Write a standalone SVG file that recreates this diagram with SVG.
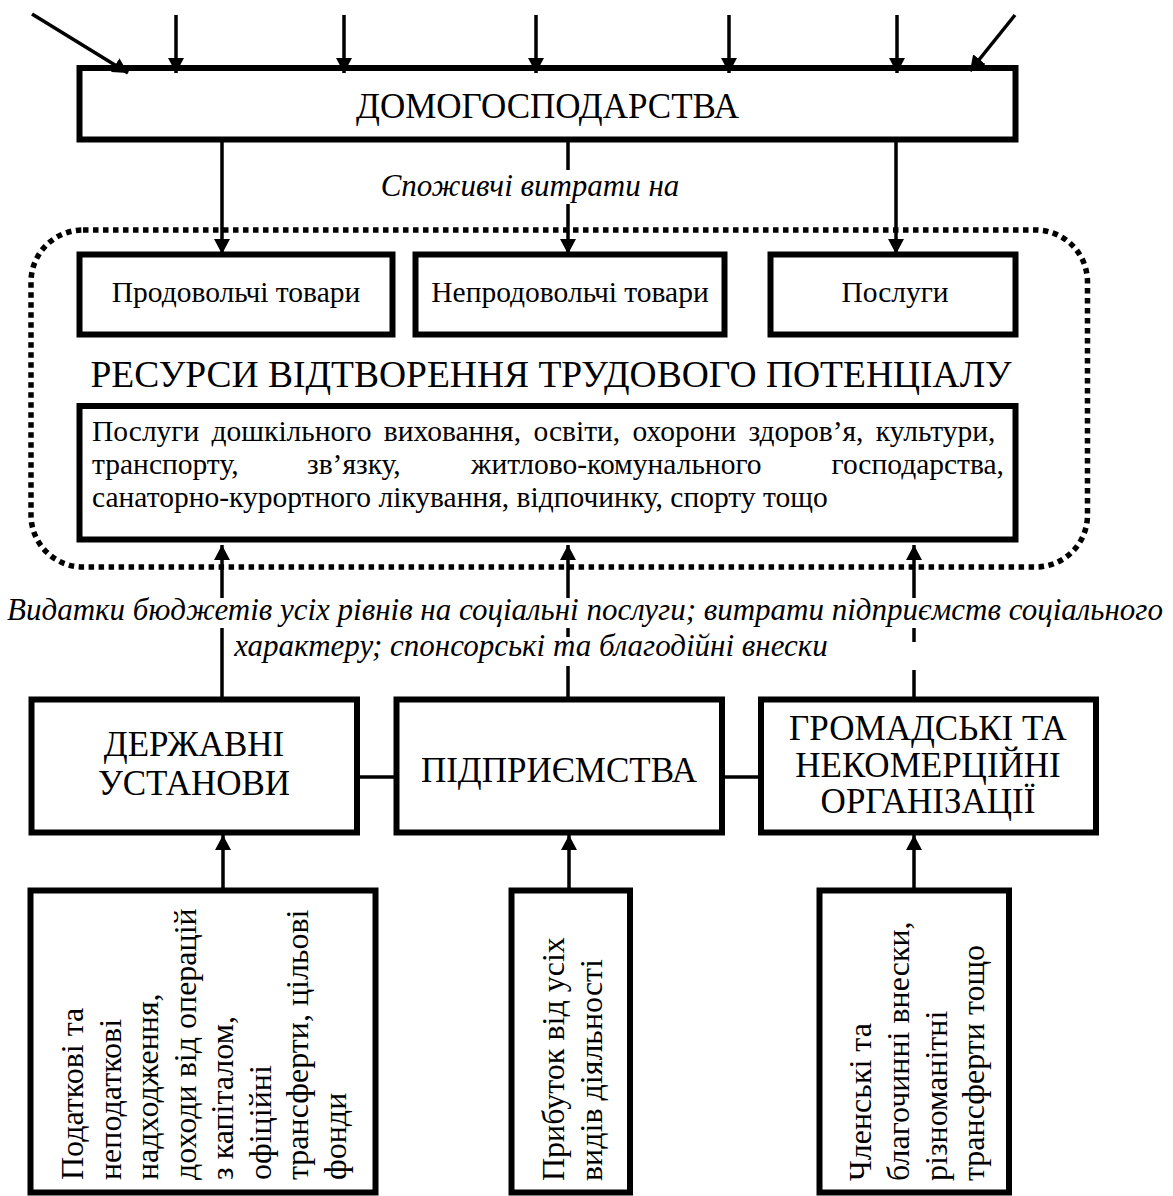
<svg xmlns="http://www.w3.org/2000/svg" width="1173" height="1196" viewBox="0 0 1173 1196">
<style>
  .box{fill:#fff;stroke:#000;stroke-width:6}
  .ln{fill:none;stroke:#000;stroke-width:3.5}
  .dot{fill:none;stroke:#000;stroke-width:5.5;stroke-dasharray:5.5 4.5}
  text{font-family:"Liberation Serif","Times New Roman",serif;fill:#000}
  .h{font-size:35px;text-anchor:middle}
  .m{font-size:29.5px;text-anchor:middle}
  .b{font-size:29.5px}
  .it{font-size:31px;font-style:italic;text-anchor:middle}
  .r{font-size:32px}
</style>
<defs>
  <marker id="ah" markerUnits="userSpaceOnUse" markerWidth="17" markerHeight="17" refX="15" refY="8" orient="auto">
    <path d="M0,0 L15,8 L0,16 z" fill="#000"/>
  </marker>
</defs>

<g id="resources-area">
  <path class="dot" d="M83,230 H1035.5 A52,52 0 0 1 1087.5,282 V515 A52,52 0 0 1 1035.5,567 H83 A52,52 0 0 1 31,515 V282 A52,52 0 0 1 83,230 Z"/>
  <text class="h" x="551" y="387" style="font-size:37.5px">РЕСУРСИ ВІДТВОРЕННЯ ТРУДОВОГО ПОТЕНЦІАЛУ</text>
</g>

<g id="households">
  <rect class="box" x="79.5" y="68" width="936" height="71.5"/>
  <text class="h" x="547.5" y="118">ДОМОГОСПОДАРСТВА</text>
</g>

<g id="food">
  <rect class="box" x="79.5" y="254.5" width="313" height="80"/>
  <text class="m" x="236" y="302">Продовольчі товари</text>
</g>
<g id="nonfood">
  <rect class="box" x="415.5" y="254.5" width="309" height="80"/>
  <text class="m" x="570" y="302">Непродовольчі товари</text>
</g>
<g id="services">
  <rect class="box" x="770.5" y="254.5" width="245" height="80"/>
  <text class="m" x="895" y="302">Послуги</text>
</g>

<g id="social-services">
  <rect class="box" x="79.5" y="406" width="936" height="133.5"/>
  <text class="b" x="92" y="441" word-spacing="5">Послуги дошкільного виховання, освіти, охорони здоров’я, культури,</text>
  <text class="b" y="474"><tspan x="92">транспорту,</tspan><tspan x="307">зв’язку,</tspan><tspan x="471">житлово-комунального</tspan></text>
  <text class="b" x="1004" y="474" text-anchor="end">господарства,</text>
  <text class="b" x="92" y="507">санаторно-курортного лікування, відпочинку, спорту тощо</text>
</g>

<g id="state">
  <rect class="box" x="31.5" y="699.5" width="325.5" height="133"/>
  <text class="h" x="194" y="756">ДЕРЖАВНІ</text>
  <text class="h" x="194" y="795">УСТАНОВИ</text>
</g>
<g id="enterprises">
  <rect class="box" x="396.5" y="699.5" width="325.5" height="133"/>
  <text class="h" x="559" y="782">ПІДПРИЄМСТВА</text>
</g>
<g id="ngo">
  <rect class="box" x="761" y="699.5" width="335" height="133"/>
  <text class="h" x="928" y="740">ГРОМАДСЬКІ ТА</text>
  <text class="h" x="928" y="777">НЕКОМЕРЦІЙНІ</text>
  <text class="h" x="928" y="813">ОРГАНІЗАЦІЇ</text>
</g>

<g id="taxes">
  <rect class="box" x="30.5" y="890.5" width="345" height="302"/>
  <g class="r">
    <text transform="translate(83,1180) rotate(-90)">Податкові та</text>
    <text transform="translate(120.5,1180) rotate(-90)">неподаткові</text>
    <text transform="translate(158,1180) rotate(-90)">надходження,</text>
    <text transform="translate(195.5,1180) rotate(-90)">доходи від операцій</text>
    <text transform="translate(233,1180) rotate(-90)">з капіталом,</text>
    <text transform="translate(270.5,1180) rotate(-90)">офіційні</text>
    <text transform="translate(308,1180) rotate(-90)">трансферти, цільові</text>
    <text transform="translate(345.5,1180) rotate(-90)">фонди</text>
  </g>
</g>
<g id="profit">
  <rect class="box" x="511.5" y="890.5" width="118.5" height="302"/>
  <g class="r">
    <text transform="translate(564,1181) rotate(-90)">Прибуток від усіх</text>
    <text transform="translate(602,1181) rotate(-90)">видів діяльності</text>
  </g>
</g>
<g id="contributions">
  <rect class="box" x="819.5" y="890.5" width="189.5" height="302"/>
  <g class="r">
    <text transform="translate(871,1181) rotate(-90)">Членські та</text>
    <text transform="translate(909,1181) rotate(-90)">благочинні внески,</text>
    <text transform="translate(946.5,1181) rotate(-90)">різноманітні</text>
    <text transform="translate(984,1181) rotate(-90)">трансферти тощо</text>
  </g>
</g>

<g id="labels">
  <text class="it" x="530" y="196">Споживчі витрати на</text>
  <text class="it" x="585" y="620">Видатки бюджетів усіх рівнів на соціальні послуги; витрати підприємств соціального</text>
  <text class="it" x="531" y="656">характеру; спонсорські та благодійні внески</text>
</g>

<g id="connectors">
  <line class="ln" x1="32" y1="14" x2="128" y2="73" marker-end="url(#ah)"/>
  <line class="ln" x1="176" y1="15" x2="176" y2="73" marker-end="url(#ah)"/>
  <line class="ln" x1="344" y1="15" x2="344" y2="73" marker-end="url(#ah)"/>
  <line class="ln" x1="536" y1="15" x2="536" y2="73" marker-end="url(#ah)"/>
  <line class="ln" x1="729" y1="15" x2="729" y2="73" marker-end="url(#ah)"/>
  <line class="ln" x1="897" y1="15" x2="897" y2="73" marker-end="url(#ah)"/>
  <line class="ln" x1="1015" y1="15" x2="970" y2="71" marker-end="url(#ah)"/>

  <line class="ln" x1="222" y1="142" x2="222" y2="254" marker-end="url(#ah)"/>
  <line class="ln" x1="568" y1="142" x2="568" y2="170"/>
  <line class="ln" x1="568" y1="204" x2="568" y2="254" marker-end="url(#ah)"/>
  <line class="ln" x1="896" y1="142" x2="896" y2="254" marker-end="url(#ah)"/>

  <line class="ln" x1="222" y1="598" x2="222" y2="545" marker-end="url(#ah)"/>
  <line class="ln" x1="222" y1="628" x2="222" y2="697"/>
  <line class="ln" x1="568" y1="598" x2="568" y2="545" marker-end="url(#ah)"/>
  <line class="ln" x1="568" y1="628" x2="568" y2="637"/>
  <line class="ln" x1="568" y1="666" x2="568" y2="697"/>
  <line class="ln" x1="914" y1="598" x2="914" y2="545" marker-end="url(#ah)"/>
  <line class="ln" x1="914" y1="628" x2="914" y2="642"/>
  <line class="ln" x1="914" y1="670" x2="914" y2="697"/>

  <line class="ln" x1="357" y1="777" x2="396.5" y2="777"/>
  <line class="ln" x1="722" y1="777" x2="761" y2="777"/>

  <line class="ln" x1="223" y1="888" x2="223" y2="835" marker-end="url(#ah)"/>
  <line class="ln" x1="569" y1="888" x2="569" y2="835" marker-end="url(#ah)"/>
  <line class="ln" x1="914" y1="888" x2="914" y2="835" marker-end="url(#ah)"/>
</g>
</svg>
